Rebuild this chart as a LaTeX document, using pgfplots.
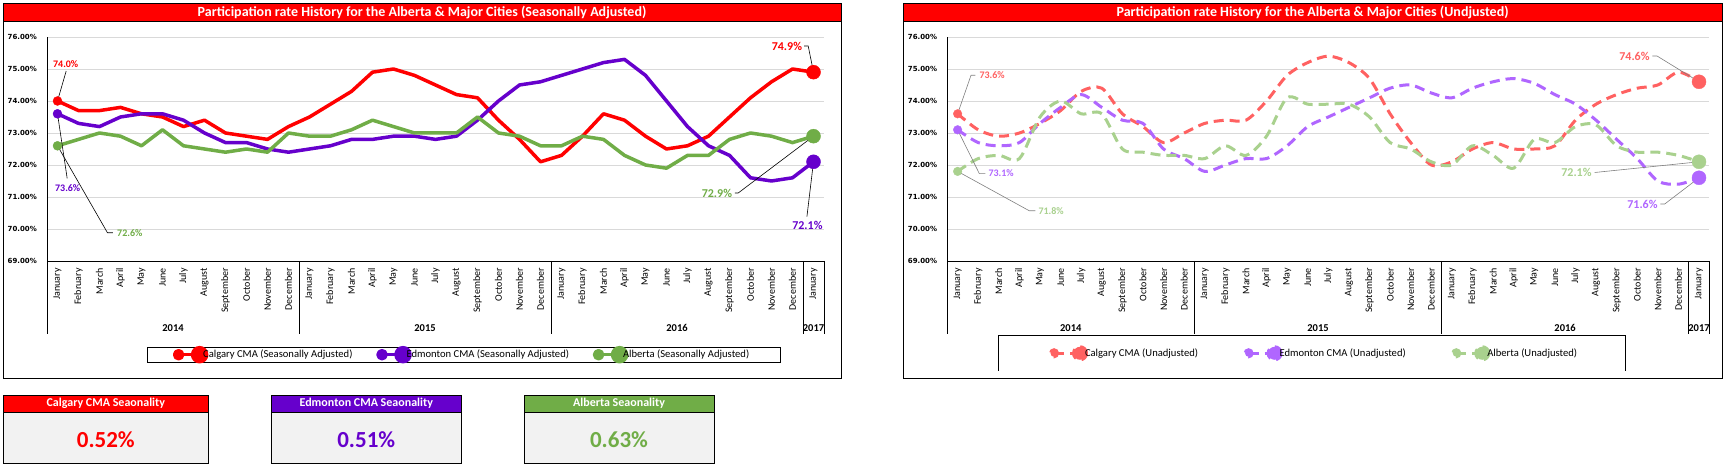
\documentclass[border=0pt]{standalone}
\usepackage{pgfplots}
\usepackage{pgfplotstable}
\pgfplotsset{compat=1.18}
\usepackage{fontspec}
\setmainfont{Carlito}
\newfontfamily\dejavu{DejaVu Sans}
\definecolor{cred}{HTML}{FF0000}
\definecolor{cpur}{HTML}{6600CC}
\definecolor{cgrn}{HTML}{70AD47}
\definecolor{ured}{HTML}{FF6161}
\definecolor{upur}{HTML}{B066FF}
\definecolor{ugrn}{HTML}{A9D18E}
\definecolor{gridc}{HTML}{D9D9D9}
\definecolor{boxbg}{HTML}{F2F2F2}

\pgfplotstableread{
i cal edm alb
0 74.0 73.6 72.6
1 73.7 73.3 72.8
2 73.7 73.2 73.0
3 73.8 73.5 72.9
4 73.6 73.6 72.6
5 73.5 73.6 73.1
6 73.2 73.4 72.6
7 73.4 73.0 72.5
8 73.0 72.7 72.4
9 72.9 72.7 72.5
10 72.8 72.5 72.4
11 73.2 72.4 73.0
12 73.5 72.5 72.9
13 73.9 72.6 72.9
14 74.3 72.8 73.1
15 74.9 72.8 73.4
16 75.0 72.9 73.2
17 74.8 72.9 73.0
18 74.5 72.8 73.0
19 74.2 72.9 73.0
20 74.1 73.4 73.5
21 73.4 74.0 73.0
22 72.8 74.5 72.9
23 72.1 74.6 72.6
24 72.3 74.8 72.6
25 72.9 75.0 72.9
26 73.6 75.2 72.8
27 73.4 75.3 72.3
28 72.9 74.8 72.0
29 72.5 74.0 71.9
30 72.6 73.2 72.3
31 72.9 72.6 72.3
32 73.5 72.3 72.8
33 74.1 71.6 73.0
34 74.6 71.5 72.9
35 75.0 71.6 72.7
36 74.9 72.1 72.9
}\sadata

\pgfplotstableread{
i cal edm alb
0 73.6 73.1 71.8
1 73.1 72.7 72.2
2 72.9 72.6 72.3
3 73.0 72.7 72.2
4 73.3 73.3 73.5
5 73.7 73.8 74.0
6 74.3 74.2 73.6
7 74.4 73.8 73.6
8 73.6 73.4 72.5
9 73.2 73.3 72.4
10 72.7 72.5 72.3
11 73.0 72.2 72.3
12 73.3 71.8 72.2
13 73.4 72.0 72.6
14 73.4 72.2 72.3
15 74.0 72.2 72.9
16 74.8 72.6 74.1
17 75.2 73.2 73.9
18 75.4 73.5 73.9
19 75.2 73.8 73.9
20 74.7 74.1 73.5
21 73.6 74.4 72.7
22 72.7 74.5 72.5
23 72.0 74.25 72.1
24 72.1 74.1 72.0
25 72.5 74.4 72.6
26 72.7 74.6 72.3
27 72.5 74.7 71.9
28 72.5 74.55 72.8
29 72.6 74.2 72.7
30 73.4 73.9 73.2
31 73.9 73.4 73.25
32 74.2 72.8 72.6
33 74.4 72.2 72.4
34 74.5 71.5 72.4
35 74.9 71.4 72.3
36 74.6 71.6 72.1
}\undata

\tikzset{
  lblS/.style={font=\bfseries\fontsize{10bp}{12bp}\selectfont, inner sep=0pt},
  lblL/.style={font=\bfseries\fontsize{12bp}{14bp}\selectfont, inner sep=0pt},
}

\pgfplotsset{
  panelaxis/.style={
    scale only axis, height=224bp, anchor=south west, clip=false,
    ymin=69, ymax=76, ytick={69,70,...,76},
    yticklabels={69.00\%,70.00\%,71.00\%,72.00\%,73.00\%,74.00\%,75.00\%,76.00\%},
    xmin=-0.5, xmax=36.5, xtick={0,1,...,36},
    xticklabels={January,February,March,April,May,June,July,August,September,October,November,December,
      January,February,March,April,May,June,July,August,September,October,November,December,
      January,February,March,April,May,June,July,August,September,October,November,December,January},
    axis lines*=left, axis line style={-, black, line width=0.8bp},
    major tick length=0pt, tick style={draw=none},
    ymajorgrids, major grid style={draw=gridc, line width=0.8bp},
    yticklabel style={font=\dejavu\bfseries\fontsize{7bp}{8bp}\selectfont, anchor=east, inner sep=0pt, xshift=-10bp},
    xticklabel style={font=\fontsize{10bp}{12bp}\selectfont, rotate=90, anchor=east, inner sep=0pt},
    xticklabel shift=7bp,
    legend columns=3, legend cell align=left,
  },
}

\begin{document}
\begin{tikzpicture}[x=1bp,y=1bp]
\fill[white] (0,0) rectangle (1727,466);
\useasboundingbox (0,0) rectangle (1727,466);

% ---------- left panel frame ----------
\draw[line width=0.8bp] (3.3,87.5) rectangle (841,462.7);
\filldraw[fill=cred, draw=black, line width=0.8bp] (3.3,444.7) rectangle (841,462.7);
\node[white, font=\bfseries\fontsize{14bp}{16bp}\selectfont] at (422,453.7)
  {Participation rate History for the Alberta \& Major Cities (Seasonally Adjusted)};

\begin{axis}[panelaxis, at={(47bp,205bp)}, width=777bp,
  legend image code/.code={
    \draw[#1, line width=3bp] (0bp,0bp) -- (21bp,0bp);
    \fill[#1, overlay] (0bp,0bp) circle[radius=4bp];
    \fill[#1, overlay] (21bp,0bp) circle[radius=7bp];
  },
  legend style={at={(0.1291,-0.4183)}, anchor=west, draw=black, line width=0.8bp, fill=white,
    inner xsep=29.4bp, inner ysep=1bp, font=\fontsize{10.6bp}{12bp}\selectfont,
    /tikz/every even column/.append style={column sep=26bp}},
]
\addplot[cred, line width=3.5bp, line join=round] table[x=i,y=cal]{\sadata};
\addlegendentry{Calgary CMA (Seasonally Adjusted)}
\addplot[cpur, line width=3.5bp, line join=round] table[x=i,y=edm]{\sadata};
\addlegendentry{Edmonton CMA (Seasonally Adjusted)}
\addplot[cgrn, line width=3.5bp, line join=round] table[x=i,y=alb]{\sadata};
\addlegendentry{Alberta (Seasonally Adjusted)}
\addplot[cred, only marks, mark=*, mark size=4.5bp, forget plot] coordinates {(0,74.0)};
\addplot[cpur, only marks, mark=*, mark size=4.5bp, forget plot] coordinates {(0,73.6)};
\addplot[cgrn, only marks, mark=*, mark size=4.5bp, forget plot] coordinates {(0,72.6)};
\addplot[cred, only marks, mark=*, mark size=7bp, forget plot] coordinates {(36,74.9)};
\addplot[cpur, only marks, mark=*, mark size=7bp, forget plot] coordinates {(36,72.1)};
\addplot[cgrn, only marks, mark=*, mark size=7bp, forget plot] coordinates {(36,72.9)};
% data labels
\draw[line width=0.6bp] (axis cs:0,74.0) -- ++(8.7bp,30bp);
\node[cred, lblS, xshift=8.2bp, yshift=37bp] at (axis cs:0,74.0) {74.0\%};
\draw[line width=0.6bp] (axis cs:0,73.6) -- ++(9.7bp,-64.7bp);
\node[cpur, lblS, xshift=10.2bp, yshift=-74.7bp] at (axis cs:0,73.6) {73.6\%};
\draw[line width=0.6bp] (axis cs:0,72.6) -- ++(50bp,-87bp) -- ++(5.4bp,0bp);
\node[cgrn, lblS, anchor=west, xshift=59.5bp, yshift=-87bp] at (axis cs:0,72.6) {72.6\%};
\draw[line width=0.6bp] (axis cs:36,74.9) -- ++(-5.3bp,26.2bp) -- ++(-4bp,0bp);
\node[cred, lblL, anchor=east, xshift=-11.3bp, yshift=26.2bp] at (axis cs:36,74.9) {74.9\%};
\draw[line width=0.6bp] (axis cs:36,72.9) -- ++(-75.3bp,-56.8bp) -- ++(-3.3bp,0bp);
\node[cgrn, lblL, anchor=east, xshift=-81.3bp, yshift=-56.8bp] at (axis cs:36,72.9) {72.9\%};
\draw[line width=0.6bp] (axis cs:36,72.1) -- ++(-6.6bp,-54.9bp);
\node[cpur, lblL, xshift=-6.1bp, yshift=-63.2bp] at (axis cs:36,72.1) {72.1\%};
\end{axis}

% left category group separators and years
\foreach \xx in {47,299,551,803,824} \draw[line width=0.8bp] (\xx,205) -- (\xx,132);
\begin{scope}[every node/.style={font=\bfseries\fontsize{10.5bp}{12bp}\selectfont}]
\node at (173,138.3) {2014};
\node at (425,138.3) {2015};
\node at (677,138.3) {2016};
\node at (813.5,138.3) {2017};
\end{scope}

% ---------- right panel frame ----------
\draw[line width=0.8bp] (903.3,87.5) rectangle (1722,462.7);
\filldraw[fill=cred, draw=black, line width=0.8bp] (903.3,444.7) rectangle (1722,462.7);
\node[white, font=\bfseries\fontsize{14bp}{16bp}\selectfont] at (1312.6,453.7)
  {Participation rate History for the Alberta \& Major Cities (Undjusted)};

\begin{axis}[panelaxis, at={(947.3bp,205bp)}, width=762bp,
  legend image code/.code={
    \path (0bp,0bp) -- (27.5bp,0bp);
    \draw[#1, solid, line width=3bp] (0bp,0bp) -- (6bp,0bp);
    \fill[#1, overlay] (0bp,0bp) circle[radius=3.5bp];
    \fill[#1, overlay] (26bp,0bp) circle[radius=6.5bp];
  },
  legend style={at={(0.1378,-0.412)}, anchor=west, draw=none, fill=none,
    inner xsep=0bp, inner ysep=0bp, font=\fontsize{10.6bp}{12bp}\selectfont,
    /tikz/every even column/.append style={column sep=47bp}},
]
\addplot[ured, line width=3bp, smooth, dash pattern=on 10bp off 6bp] table[x=i,y=cal]{\undata};
\addlegendentry{Calgary CMA (Unadjusted)}
\addplot[upur, line width=3bp, smooth, dash pattern=on 10bp off 6bp] table[x=i,y=edm]{\undata};
\addlegendentry{Edmonton CMA (Unadjusted)}
\addplot[ugrn, line width=3bp, smooth, dash pattern=on 10bp off 6bp] table[x=i,y=alb]{\undata};
\addlegendentry{Alberta (Unadjusted)}
\addplot[ured, only marks, mark=*, mark size=4.3bp, forget plot] coordinates {(0,73.6)};
\addplot[upur, only marks, mark=*, mark size=4.3bp, forget plot] coordinates {(0,73.1)};
\addplot[ugrn, only marks, mark=*, mark size=4.3bp, forget plot] coordinates {(0,71.8)};
\addplot[ured, only marks, mark=*, mark size=7bp, forget plot] coordinates {(36,74.6)};
\addplot[upur, only marks, mark=*, mark size=7bp, forget plot] coordinates {(36,71.6)};
\addplot[ugrn, only marks, mark=*, mark size=7bp, forget plot] coordinates {(36,72.1)};
% data labels
\draw[gray, line width=0.6bp] (axis cs:0,73.6) -- ++(13.4bp,38.5bp) -- ++(4.3bp,0bp);
\node[ured, lblS, anchor=west, xshift=21.7bp, yshift=38.5bp] at (axis cs:0,73.6) {73.6\%};
\draw[gray, line width=0.6bp] (axis cs:0,73.1) -- ++(21.7bp,-43.8bp) -- ++(6bp,0bp);
\node[upur, lblS, anchor=west, xshift=30.7bp, yshift=-43.8bp] at (axis cs:0,73.1) {73.1\%};
\draw[gray, line width=0.6bp] (axis cs:0,71.8) -- ++(71.7bp,-39.4bp) -- ++(6bp,0bp);
\node[ugrn, lblS, anchor=west, xshift=80.7bp, yshift=-39.4bp] at (axis cs:0,71.8) {71.8\%};
\draw[gray, line width=0.6bp] (axis cs:36,74.6) -- ++(-42bp,25.8bp) -- ++(-4.6bp,0bp);
\node[ured, lblL, anchor=east, xshift=-49.3bp, yshift=25.8bp] at (axis cs:36,74.6) {74.6\%};
\draw[gray, line width=0.6bp] (axis cs:36,72.1) -- ++(-104.3bp,-10.7bp);
\node[ugrn, lblL, anchor=east, xshift=-107.3bp, yshift=-10.7bp] at (axis cs:36,72.1) {72.1\%};
\draw[gray, line width=0.6bp] (axis cs:36,71.6) -- ++(-34.3bp,-26.2bp) -- ++(-4.3bp,0bp);
\node[upur, lblL, anchor=east, xshift=-41.3bp, yshift=-26.2bp] at (axis cs:36,71.6) {71.6\%};
\end{axis}

% right legend frame (open at bottom)
\draw[line width=0.8bp] (998.3,95) |- (1625,131) -- (1625,95);
% right category group separators and years
\foreach \xx in {947.3,1194.4,1441.5,1688.7,1709.3} \draw[line width=0.8bp] (\xx,205) -- (\xx,132);
\begin{scope}[every node/.style={font=\bfseries\fontsize{10.5bp}{12bp}\selectfont}]
\node at (1070.8,138.3) {2014};
\node at (1318,138.3) {2015};
\node at (1565.1,138.3) {2016};
\node at (1699,138.3) {2017};
\end{scope}

% ---------- seasonality boxes ----------
\foreach \xl/\xr/\col/\head/\val in {3.3/208.3/cred/Calgary CMA Seaonality/0.52\%,
    271.5/461/cpur/Edmonton CMA Seaonality/0.51\%,
    524/714/cgrn/Alberta Seaonality/0.63\%} {
  \filldraw[fill=\col, draw=black, line width=0.8bp] (\xl,53.7) rectangle (\xr,71);
  \filldraw[fill=boxbg, draw=black, line width=0.8bp] (\xl,3) rectangle (\xr,53.7);
  \node[white, font=\bfseries\fontsize{12bp}{14bp}\selectfont] at ({(\xl+\xr)/2},62.35) {\head};
  \node[\col, font=\bfseries\fontsize{23bp}{26bp}\selectfont] at ({(\xl+\xr)/2},26.7) {\val};
}
\end{tikzpicture}
\end{document}
